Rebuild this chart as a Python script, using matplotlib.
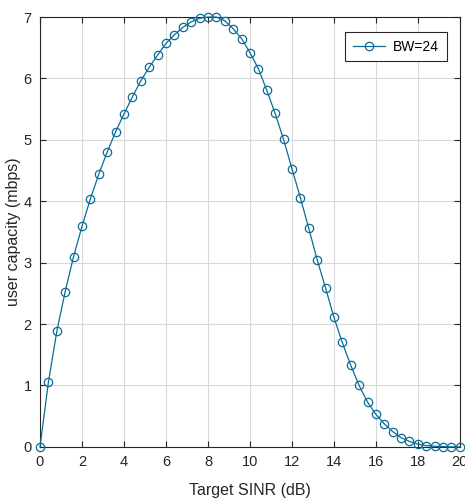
import matplotlib
matplotlib.use("Agg")
import matplotlib.pyplot as plt
import numpy as np

plt.rcParams['font.family'] = ['Liberation Sans', 'DejaVu Sans']

# Target SINR (dB), one marker every 0.4 dB
sinr = np.arange(51) * 0.4

# user capacity (mbps)
capacity = [
    0.0, 1.05, 1.88, 2.53, 3.10,
    3.59, 4.04, 4.44, 4.80, 5.13, 5.42, 5.70, 5.96, 6.18, 6.38,
    6.57, 6.71, 6.83, 6.92, 6.98, 7.00, 7.00, 6.94, 6.81, 6.65,
    6.42, 6.16, 5.81, 5.43, 5.01, 4.53, 4.06, 3.56,
    3.05, 2.59, 2.11, 1.70, 1.33, 1.00, 0.73, 0.53, 0.375, 0.25,
    0.15, 0.09, 0.045, 0.02, 0.01, 0.005, 0.0, 0.0,
]

xticks = list(range(0, 21, 2))
yticks = list(range(0, 8))

fig = plt.figure(figsize=(4.65, 5.01), dpi=100)
ax = fig.add_axes([0.086, 0.108, 0.903, 0.858])

col = '#0b6c96'
ax.plot(sinr, capacity, '-o', color=col, lw=0.9, markersize=6,
        markerfacecolor='none', markeredgecolor=col, markeredgewidth=0.9,
        label='BW=24', clip_on=False, zorder=3)

ax.set_xlim(0, 20)
ax.set_ylim(0, 7)
ax.set_xticks(xticks)
ax.set_yticks(yticks)
ax.grid(True, color='#d9d9d9', lw=0.8)
ax.set_axisbelow(True)

ax.tick_params(direction='in', length=4, width=0.8, top=True, right=True,
               labelsize=10.5, colors='#262626', pad=6)
for s in ax.spines.values():
    s.set_color('#262626')
    s.set_linewidth(0.8)

ax.set_xlabel('Target SINR (dB)', fontsize=11.5, color='#262626', labelpad=10)
ax.set_ylabel('user capacity (mbps)', fontsize=11.5, color='#262626', labelpad=2)

leg = ax.legend(loc='upper right', bbox_to_anchor=(0.969, 0.965), fontsize=10,
                fancybox=False, framealpha=1, edgecolor='#262626',
                handlelength=2.3, handletextpad=0.6, borderpad=0.55,
                borderaxespad=0)
leg.get_frame().set_linewidth(0.8)

fig.savefig('out.png', dpi=100)
